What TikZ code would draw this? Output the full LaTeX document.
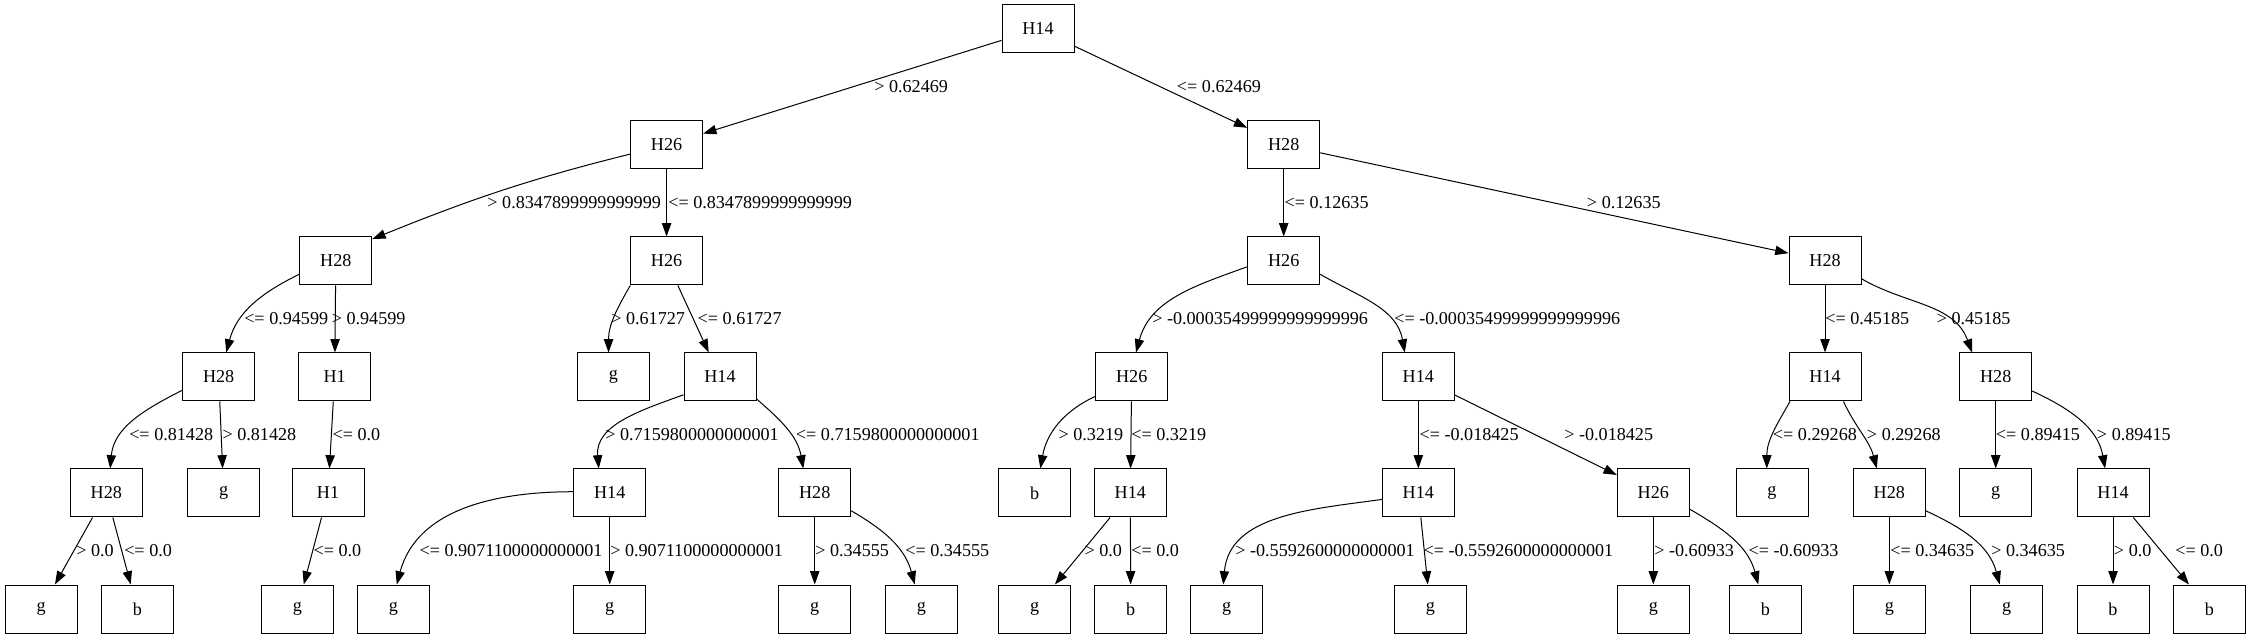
\documentclass[tikz,border=0pt]{standalone}
\usepackage{fontspec}
\setmainfont{Liberation Serif}
\usetikzlibrary{arrows.meta}
\tikzset{
    box/.style={draw, line width=0.75pt, minimum width=54pt, minimum height=36pt, inner sep=0pt, font=\fontsize{13.6}{16}\selectfont},
    edge/.style={line width=0.75pt, -{Triangle[length=10pt,width=7pt]}},
    lbl/.style={anchor=west, inner sep=0pt, font=\fontsize{13.6}{16}\selectfont}
}
\begin{document}
\begin{tikzpicture}[x=0.75pt,y=0.75pt]
        \useasboundingbox (0,0) rectangle (2251,639);

            % Place the tree nodes, one level at a time
            \node[box] (n0) at (1038,610) {H14};
            \foreach \n/\x/\t in {n1a/666.6/H26, n1b/1283.7/H28} {
                \node[box] (\n) at (\x,494) {\t};
            }
            \foreach \n/\x/\t in {n2a/335.8/H28, n2b/666.6/H26, n2c/1283.7/H26, n2d/1825/H28} {
                \node[box] (\n) at (\x,378) {\t};
            }
            \foreach \n/\x/\t in {n3a/218.7/H28, n3b/334.7/H1, n3c/613.3/g, n3d/720/H14,
                n3e/1131.7/H26, n3f/1418.3/H14, n3g/1825/H14, n3h/1995.7/H28} {
                \node[box] (\n) at (\x,262) {\t};
            }
            \foreach \n/\x/\t in {n4a/106.3/H28, n4b/223.7/g, n4c/328/H1, n4d/609.7/H14,
                n4e/814.7/H28, n4f/1034.7/b, n4g/1130.3/H14, n4h/1418.3/H14, n4i/1653.3/H26,
                n4j/1772/g, n4k/1889.3/H28, n4l/1995.7/g, n4m/2113/H14} {
                \node[box] (\n) at (\x,146) {\t};
            }
            \foreach \n/\x/\t in {n5a/41.2/g, n5b/137.3/b, n5c/297.3/g, n5d/393.3/g,
                n5e/609.7/g, n5f/814.7/g, n5g/921.3/g, n5h/1034.7/g, n5i/1130.7/b,
                n5j/1226.7/g, n5k/1430.3/g, n5l/1653.3/g, n5m/1765.3/b, n5n/1889.3/g,
                n5o/2006.7/g, n5p/2113/b, n5q/2209.3/b} {
                \node[box] (\n) at (\x,30) {\t};
            }

            % Edges
            \draw[edge] (n0) -- (n1a);
            \draw[edge] (n0) -- (n1b);

            \draw[edge] (n1a.194) to[out=194,in=22] (n2a.31);
            \draw[edge] (n1a) -- (n2b);
            \draw[edge] (n1b) -- (n2c);
            \draw[edge] (n1b) -- (n2d);

            \draw[edge] (n2a.200) to[out=206,in=75] (n3a.73);
            \draw[edge] (n2a) -- (n3b);
            \draw[edge] (n2b.214) to[out=240,in=90] (n3c.101);
            \draw[edge] (n2b) -- (n3d);
            \draw[edge] (n2c.189) to[out=200,in=75] (n3e.80);
            \draw[edge] (n2c.340) to[out=330,in=100] (n3f.119);
            \draw[edge] (n2d) -- (n3g);
            \draw[edge] (n2d.334) to[out=330,in=110] (n3h.134);

            \draw[edge] (n3a.200) to[out=207,in=85] (n4a.81);
            \draw[edge] (n3a) -- (n4b);
            \draw[edge] (n3b) -- (n4c);
            \draw[edge] (n3d.206) to[out=200,in=95] (n4d.114);
            \draw[edge] (n3d.329) to[out=319,in=100] (n4e.115);
            \draw[edge] (n3e.208) to[out=205,in=80] (n4f.77);
            \draw[edge] (n3e) -- (n4g);
            \draw[edge] (n3f) -- (n4h);
            \draw[edge] (n3f) -- (n4i);
            \draw[edge] (n3g.215) to[out=240,in=90] (n4j.102);
            \draw[edge] (n3g.307) to[out=295,in=105] (n4k.117);
            \draw[edge] (n3h) -- (n4l);
            \draw[edge] (n3h.339) to[out=335,in=100] (n4m.108);

            \draw[edge] (n4a) -- (n5a);
            \draw[edge] (n4a) -- (n5b);
            \draw[edge] (n4c) -- (n5c);
            \draw[edge] (n4d.178) to[out=180,in=75] (n5d.82);
            \draw[edge] (n4d) -- (n5e);
            \draw[edge] (n4e) -- (n5f);
            \draw[edge] (n4e.334) to[out=330,in=105] (n5g.105);
            \draw[edge] (n4g) -- (n5h);
            \draw[edge] (n4g) -- (n5i);
            \draw[edge] (n4h.190) to[out=188,in=85] (n5j.98);
            \draw[edge] (n4h) -- (n5k);
            \draw[edge] (n4i) -- (n5l);
            \draw[edge] (n4i.336) to[out=330,in=105] (n5m.106);
            \draw[edge] (n4k) -- (n5n);
            \draw[edge] (n4k.334) to[out=335,in=105] (n5o.106);
            \draw[edge] (n4m) -- (n5p);
            \draw[edge] (n4m) -- (n5q);

            % Split labels
            \foreach \n/\x/\y/\t in {
                l0a/874/552/{> 0.62469},
                l0b/1176.7/552/{<= 0.62469},
                l1a/487.2/436/{> 0.8347899999999999},
                l1b/668/436/{<= 0.8347899999999999},
                l1c/1284.4/436/{<= 0.12635},
                l1d/1586.7/436/{> 0.12635},
                l2a/244/320/{<= 0.94599},
                l2b/331.5/320/{> 0.94599},
                l2c/611/320/{> 0.61727},
                l2d/697.4/320/{<= 0.61727},
                l2e/1152/320/{> -0.00035499999999999996},
                l2f/1394/320/{<= -0.00035499999999999996},
                l2g/1825/320/{<= 0.45185},
                l2h/1936.5/320/{> 0.45185},
                l3a/129/204/{<= 0.81428},
                l3b/222.3/204/{> 0.81428},
                l3c/332.3/204/{<= 0.0},
                l3d/605/204/{> 0.7159800000000001},
                l3e/795.7/204/{<= 0.7159800000000001},
                l3f/1058.3/204/{> 0.3219},
                l3g/1131/204/{<= 0.3219},
                l3h/1419.3/204/{<= -0.018425},
                l3i/1564/204/{> -0.018425},
                l3j/1772.7/204/{<= 0.29268},
                l3k/1866.7/204/{> 0.29268},
                l3l/1995.7/204/{<= 0.89415},
                l3m/2096.7/204/{> 0.89415},
                l4a/76/88/{> 0.0},
                l4b/124/88/{<= 0.0},
                l4c/313.3/88/{<= 0.0},
                l4d/419.3/88/{<= 0.9071100000000001},
                l4e/610/88/{> 0.9071100000000001},
                l4f/815/88/{> 0.34555},
                l4g/905/88/{<= 0.34555},
                l4h/1084.3/88/{> 0.0},
                l4i/1131/88/{<= 0.0},
                l4j/1235/88/{> -0.5592600000000001},
                l4k/1423.3/88/{<= -0.5592600000000001},
                l4l/1654/88/{> -0.60933},
                l4m/1748.3/88/{<= -0.60933},
                l4n/1890/88/{<= 0.34635},
                l4o/1991/88/{> 0.34635},
                l4p/2113.7/88/{> 0.0},
                l4q/2175/88/{<= 0.0}
            } {
                \node[lbl] (\n) at (\x,\y) {\t};
            }
\end{tikzpicture}
\end{document}
